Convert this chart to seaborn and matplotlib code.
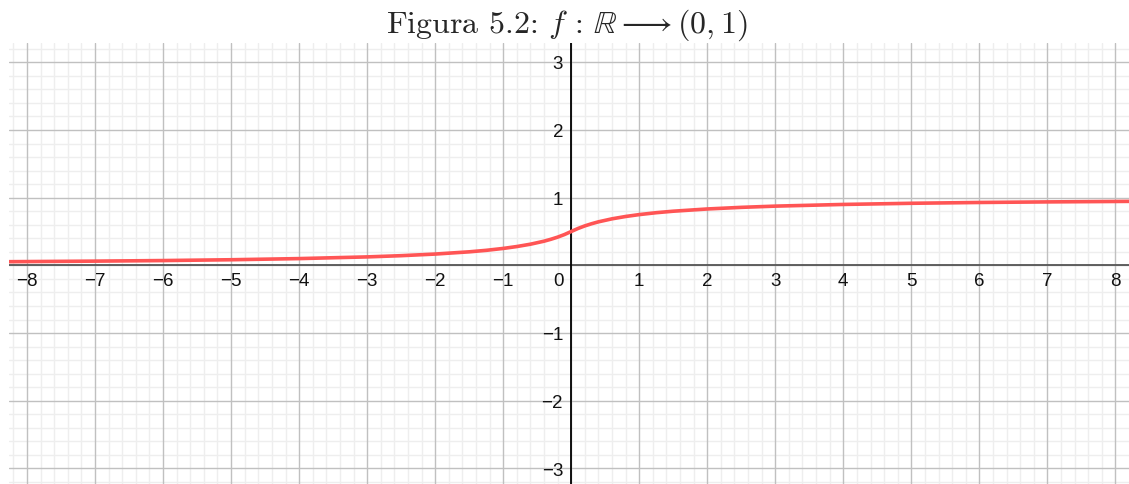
import numpy as np
import pandas as pd
import matplotlib
matplotlib.use("Agg")
import matplotlib.pyplot as plt
import seaborn as sns

sns.set_theme(style="white")
plt.rcParams["font.family"] = ["Liberation Sans", "DejaVu Sans"]
plt.rcParams["mathtext.fontset"] = "cm"
plt.rcParams["axes.unicode_minus"] = True

# Sampled points of the curve f : R -> (0, 1)
x_vals = [-8.3, -8, -7, -6, -5, -4, -3, -2.5, -2, -1.5, -1.25, -1, -0.8, -0.6,
          -0.4, -0.3, -0.2, -0.1, 0, 0.1, 0.2, 0.3, 0.4, 0.6, 0.8, 1, 1.25,
          1.5, 2, 2.5, 3, 4, 5, 6, 7, 8, 8.3]
y_vals = [0.054, 0.056, 0.0625, 0.071, 0.083, 0.100, 0.125, 0.143, 0.167,
          0.200, 0.222, 0.250, 0.278, 0.3125, 0.357, 0.385, 0.417, 0.455,
          0.500, 0.545, 0.583, 0.615, 0.643, 0.6875, 0.722, 0.750, 0.778,
          0.800, 0.833, 0.857, 0.875, 0.900, 0.917, 0.929, 0.9375, 0.944,
          0.946]
x_ticks = [-8, -7, -6, -5, -4, -3, -2, -1, 1, 2, 3, 4, 5, 6, 7, 8]
y_ticks = [-3, -2, -1, 1, 2, 3]

df = pd.DataFrame({"x": x_vals, "y": y_vals})

W, H = 1129, 484
fig = plt.figure(figsize=(W / 100, H / 100), dpi=100)
ax = fig.add_axes([9 / W, 0, 1120 / W, (H - 43) / H])

xmin, xmax = -8.265, 8.2
ymin, ymax = -3.23, 3.285
ax.set_xlim(xmin, xmax)
ax.set_ylim(ymin, ymax)

# grid: minor every 0.2, major every 1
for v in np.arange(np.ceil(xmin / 0.2) * 0.2, xmax, 0.2):
    major = abs(v - round(v)) < 1e-6
    ax.axvline(v, color="#c0c0c0" if major else "#eeeeee",
               lw=1.0, zorder=0 if major else -1)
for v in np.arange(np.ceil(ymin / 0.2) * 0.2, ymax, 0.2):
    major = abs(v - round(v)) < 1e-6
    ax.axhline(v, color="#c0c0c0" if major else "#eeeeee",
               lw=1.0, zorder=0 if major else -1)

# coordinate axes
ax.axhline(0, color="#555555", lw=1.3, zorder=1)
ax.axvline(0, color="black", lw=1.3, zorder=1)

sns.lineplot(data=df, x="x", y="y", ax=ax, color="#ff5555", lw=2.6,
             sort=True, zorder=3)

for s in ax.spines.values():
    s.set_visible(False)
ax.set_xticks([])
ax.set_yticks([])
ax.set_xlabel("")
ax.set_ylabel("")

lbl = dict(fontsize=13.5, color="#111111", zorder=4)
for t in x_ticks:
    ax.text(t, -0.12, f"{t}".replace("-", "\u2212"), ha="center", va="top", **lbl)
ax.text(-0.19, -0.12, "0", ha="center", va="top", **lbl)
for t in y_ticks:
    ax.text(-0.12, t - 0.04, f"{t}".replace("-", "\u2212"), ha="right",
            va="center", **lbl)

fig.text(0.502, 1 - 33 / H,
         r"Figura 5.2: $f\,:\,\mathbb{R}\longrightarrow(0,1)$",
         ha="center", va="baseline", fontsize=23, family="cmr10")

fig.savefig("out.png", dpi=100)
